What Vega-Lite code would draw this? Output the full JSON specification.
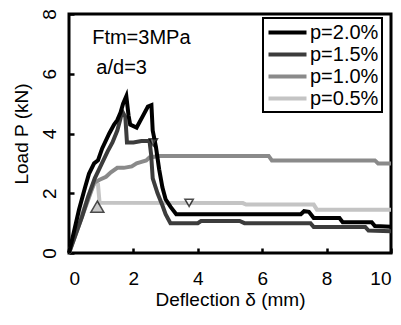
{
  "$schema": "https://vega.github.io/schema/vega-lite/v6.json",
  "width": 322,
  "height": 239,
  "autosize": "none",
  "padding": {"left": 69, "top": 14, "right": 10, "bottom": 72},
  "background": "white",
  "config": {
    "font": "Liberation Sans",
    "view": {"stroke": "black", "strokeWidth": 3},
    "axis": {"grid": false, "domain": false, "labelFont": "Liberation Sans", "titleFont": "Liberation Sans", "labelColor": "black", "titleColor": "black", "tickColor": "black", "tickWidth": 2.5, "tickSize": -5, "titleFontWeight": "normal", "labelFontSize": 19, "titleFontSize": 19},
    "legend": {"strokeColor": "black", "strokeWidth": 2, "fillColor": "white", "labelFont": "Liberation Sans", "labelFontSize": 20, "labelColor": "black", "padding": 3, "rowPadding": -3, "symbolStrokeWidth": 4, "symbolType": "M-2,0H2", "symbolSize": 361, "symbolOffset": 10, "labelOffset": 11}
  },
  "datasets": {
    "curves": [
      {"series": "p=0.5%", "d": 0, "P": 0}, {"series": "p=0.5%", "d": 0.2, "P": 0.7}, {"series": "p=0.5%", "d": 0.4, "P": 1.3}, {"series": "p=0.5%", "d": 0.6, "P": 1.9}, {"series": "p=0.5%", "d": 0.8, "P": 2.35}, {"series": "p=0.5%", "d": 0.9, "P": 2.3}, {"series": "p=0.5%", "d": 0.95, "P": 1.68}, {"series": "p=0.5%", "d": 5.4, "P": 1.67}, {"series": "p=0.5%", "d": 5.5, "P": 1.62}, {"series": "p=0.5%", "d": 7.6, "P": 1.62}, {"series": "p=0.5%", "d": 7.7, "P": 1.45}, {"series": "p=0.5%", "d": 10, "P": 1.45},
      {"series": "p=1.0%", "d": 0, "P": 0}, {"series": "p=1.0%", "d": 0.2, "P": 0.6}, {"series": "p=1.0%", "d": 0.4, "P": 1.2}, {"series": "p=1.0%", "d": 0.6, "P": 1.8}, {"series": "p=1.0%", "d": 0.78, "P": 2.35}, {"series": "p=1.0%", "d": 0.95, "P": 2.45}, {"series": "p=1.0%", "d": 1.15, "P": 2.55}, {"series": "p=1.0%", "d": 1.3, "P": 2.7}, {"series": "p=1.0%", "d": 1.5, "P": 2.85}, {"series": "p=1.0%", "d": 1.7, "P": 2.85}, {"series": "p=1.0%", "d": 1.95, "P": 2.9}, {"series": "p=1.0%", "d": 2.1, "P": 3.0}, {"series": "p=1.0%", "d": 2.25, "P": 3.05}, {"series": "p=1.0%", "d": 2.4, "P": 3.1}, {"series": "p=1.0%", "d": 2.5, "P": 3.2}, {"series": "p=1.0%", "d": 2.8, "P": 3.25}, {"series": "p=1.0%", "d": 6.2, "P": 3.25}, {"series": "p=1.0%", "d": 6.3, "P": 3.1}, {"series": "p=1.0%", "d": 9.5, "P": 3.1}, {"series": "p=1.0%", "d": 9.6, "P": 3.0}, {"series": "p=1.0%", "d": 10, "P": 3.0},
      {"series": "p=1.5%", "d": 0, "P": 0}, {"series": "p=1.5%", "d": 0.2, "P": 0.6}, {"series": "p=1.5%", "d": 0.4, "P": 1.2}, {"series": "p=1.5%", "d": 0.6, "P": 1.9}, {"series": "p=1.5%", "d": 0.8, "P": 2.5}, {"series": "p=1.5%", "d": 1.0, "P": 2.95}, {"series": "p=1.5%", "d": 1.2, "P": 3.4}, {"series": "p=1.5%", "d": 1.35, "P": 3.7}, {"series": "p=1.5%", "d": 1.5, "P": 4.1}, {"series": "p=1.5%", "d": 1.6, "P": 4.5}, {"series": "p=1.5%", "d": 1.65, "P": 4.75}, {"series": "p=1.5%", "d": 1.75, "P": 4.55}, {"series": "p=1.5%", "d": 1.8, "P": 3.7}, {"series": "p=1.5%", "d": 2.0, "P": 3.7}, {"series": "p=1.5%", "d": 2.25, "P": 3.75}, {"series": "p=1.5%", "d": 2.5, "P": 3.75}, {"series": "p=1.5%", "d": 2.55, "P": 3.3}, {"series": "p=1.5%", "d": 2.6, "P": 2.5}, {"series": "p=1.5%", "d": 2.75, "P": 2.0}, {"series": "p=1.5%", "d": 2.9, "P": 1.6}, {"series": "p=1.5%", "d": 3.0, "P": 1.3}, {"series": "p=1.5%", "d": 3.15, "P": 1.0}, {"series": "p=1.5%", "d": 4.0, "P": 1.0}, {"series": "p=1.5%", "d": 4.1, "P": 1.07}, {"series": "p=1.5%", "d": 5.3, "P": 1.07}, {"series": "p=1.5%", "d": 5.45, "P": 1.0}, {"series": "p=1.5%", "d": 7.5, "P": 1.0}, {"series": "p=1.5%", "d": 7.6, "P": 0.87}, {"series": "p=1.5%", "d": 9.2, "P": 0.87}, {"series": "p=1.5%", "d": 9.3, "P": 0.75}, {"series": "p=1.5%", "d": 10, "P": 0.73},
      {"series": "p=2.0%", "d": 0, "P": 0}, {"series": "p=2.0%", "d": 0.15, "P": 0.7}, {"series": "p=2.0%", "d": 0.31, "P": 1.45}, {"series": "p=2.0%", "d": 0.5, "P": 2.2}, {"series": "p=2.0%", "d": 0.62, "P": 2.65}, {"series": "p=2.0%", "d": 0.78, "P": 3.0}, {"series": "p=2.0%", "d": 0.9, "P": 3.1}, {"series": "p=2.0%", "d": 1.03, "P": 3.5}, {"series": "p=2.0%", "d": 1.25, "P": 4.0}, {"series": "p=2.0%", "d": 1.4, "P": 4.3}, {"series": "p=2.0%", "d": 1.5, "P": 4.45}, {"series": "p=2.0%", "d": 1.6, "P": 4.7}, {"series": "p=2.0%", "d": 1.68, "P": 5.0}, {"series": "p=2.0%", "d": 1.78, "P": 5.25}, {"series": "p=2.0%", "d": 1.85, "P": 4.6}, {"series": "p=2.0%", "d": 1.9, "P": 4.3}, {"series": "p=2.0%", "d": 2.1, "P": 4.2}, {"series": "p=2.0%", "d": 2.3, "P": 4.6}, {"series": "p=2.0%", "d": 2.45, "P": 4.9}, {"series": "p=2.0%", "d": 2.56, "P": 4.95}, {"series": "p=2.0%", "d": 2.6, "P": 4.1}, {"series": "p=2.0%", "d": 2.7, "P": 3.55}, {"series": "p=2.0%", "d": 2.8, "P": 2.8}, {"series": "p=2.0%", "d": 2.9, "P": 2.2}, {"series": "p=2.0%", "d": 3.0, "P": 1.8}, {"series": "p=2.0%", "d": 3.15, "P": 1.55}, {"series": "p=2.0%", "d": 3.33, "P": 1.3}, {"series": "p=2.0%", "d": 7.2, "P": 1.3}, {"series": "p=2.0%", "d": 7.3, "P": 1.4}, {"series": "p=2.0%", "d": 7.45, "P": 1.38}, {"series": "p=2.0%", "d": 7.6, "P": 1.17}, {"series": "p=2.0%", "d": 8.4, "P": 1.17}, {"series": "p=2.0%", "d": 8.5, "P": 1.03}, {"series": "p=2.0%", "d": 9.4, "P": 1.03}, {"series": "p=2.0%", "d": 9.5, "P": 0.9}, {"series": "p=2.0%", "d": 10, "P": 0.88}
    ],
    "markers": [
      {"d": 0.88, "P": 1.55, "shape": "triangle-up", "fill": "#b4b4b4", "sz": 170},
      {"d": 2.62, "P": 3.7, "shape": "triangle-down", "fill": "#555555", "sz": 70},
      {"d": 3.73, "P": 1.68, "shape": "triangle-down", "fill": "white", "sz": 70}
    ],
    "notes": [
      {"d": 0.72, "P": 7.0, "label": "Ftm=3MPa"},
      {"d": 0.85, "P": 6.0, "label": "a/d=3"}
    ]
  },
  "layer": [
    {
      "data": {"name": "curves"},
      "mark": {"type": "line", "strokeWidth": 4, "strokeJoin": "miter", "strokeCap": "butt"},
      "encoding": {
        "x": {"field": "d", "type": "quantitative", "scale": {"domain": [0, 10], "nice": false}, "axis": {"values": [0, 2, 4, 6, 8, 10], "title": "Deflection δ (mm)", "labelPadding": 21, "titlePadding": 2}},
        "y": {"field": "P", "type": "quantitative", "scale": {"domain": [0, 8], "nice": false}, "axis": {"values": [0, 2, 4, 6, 8], "title": "Load P (kN)", "labelAngle": -90, "labelPadding": 15, "titlePadding": 9}},
        "color": {"field": "series", "type": "nominal", "scale": {"domain": ["p=2.0%", "p=1.5%", "p=1.0%", "p=0.5%"], "range": ["#000000", "#3c3c3c", "#8a8a8a", "#c4c4c4"]}, "legend": {"title": null, "orient": "none", "legendX": 194, "legendY": 4}},
        "order": {"field": "d", "type": "quantitative"}
      }
    },
    {
      "data": {"name": "markers"},
      "mark": {"type": "point", "filled": true, "stroke": "black", "strokeWidth": 1.5},
      "encoding": {
        "x": {"field": "d", "type": "quantitative"},
        "y": {"field": "P", "type": "quantitative"},
        "shape": {"field": "shape", "type": "nominal", "scale": null},
        "fill": {"field": "fill", "type": "nominal", "scale": null},
        "size": {"field": "sz", "type": "quantitative", "scale": null}
      }
    },
    {
      "data": {"name": "notes"},
      "mark": {"type": "text", "align": "left", "baseline": "alphabetic", "fontSize": 20, "font": "Liberation Sans", "color": "black"},
      "encoding": {
        "x": {"field": "d", "type": "quantitative"},
        "y": {"field": "P", "type": "quantitative"},
        "text": {"field": "label"}
      }
    }
  ]
}
